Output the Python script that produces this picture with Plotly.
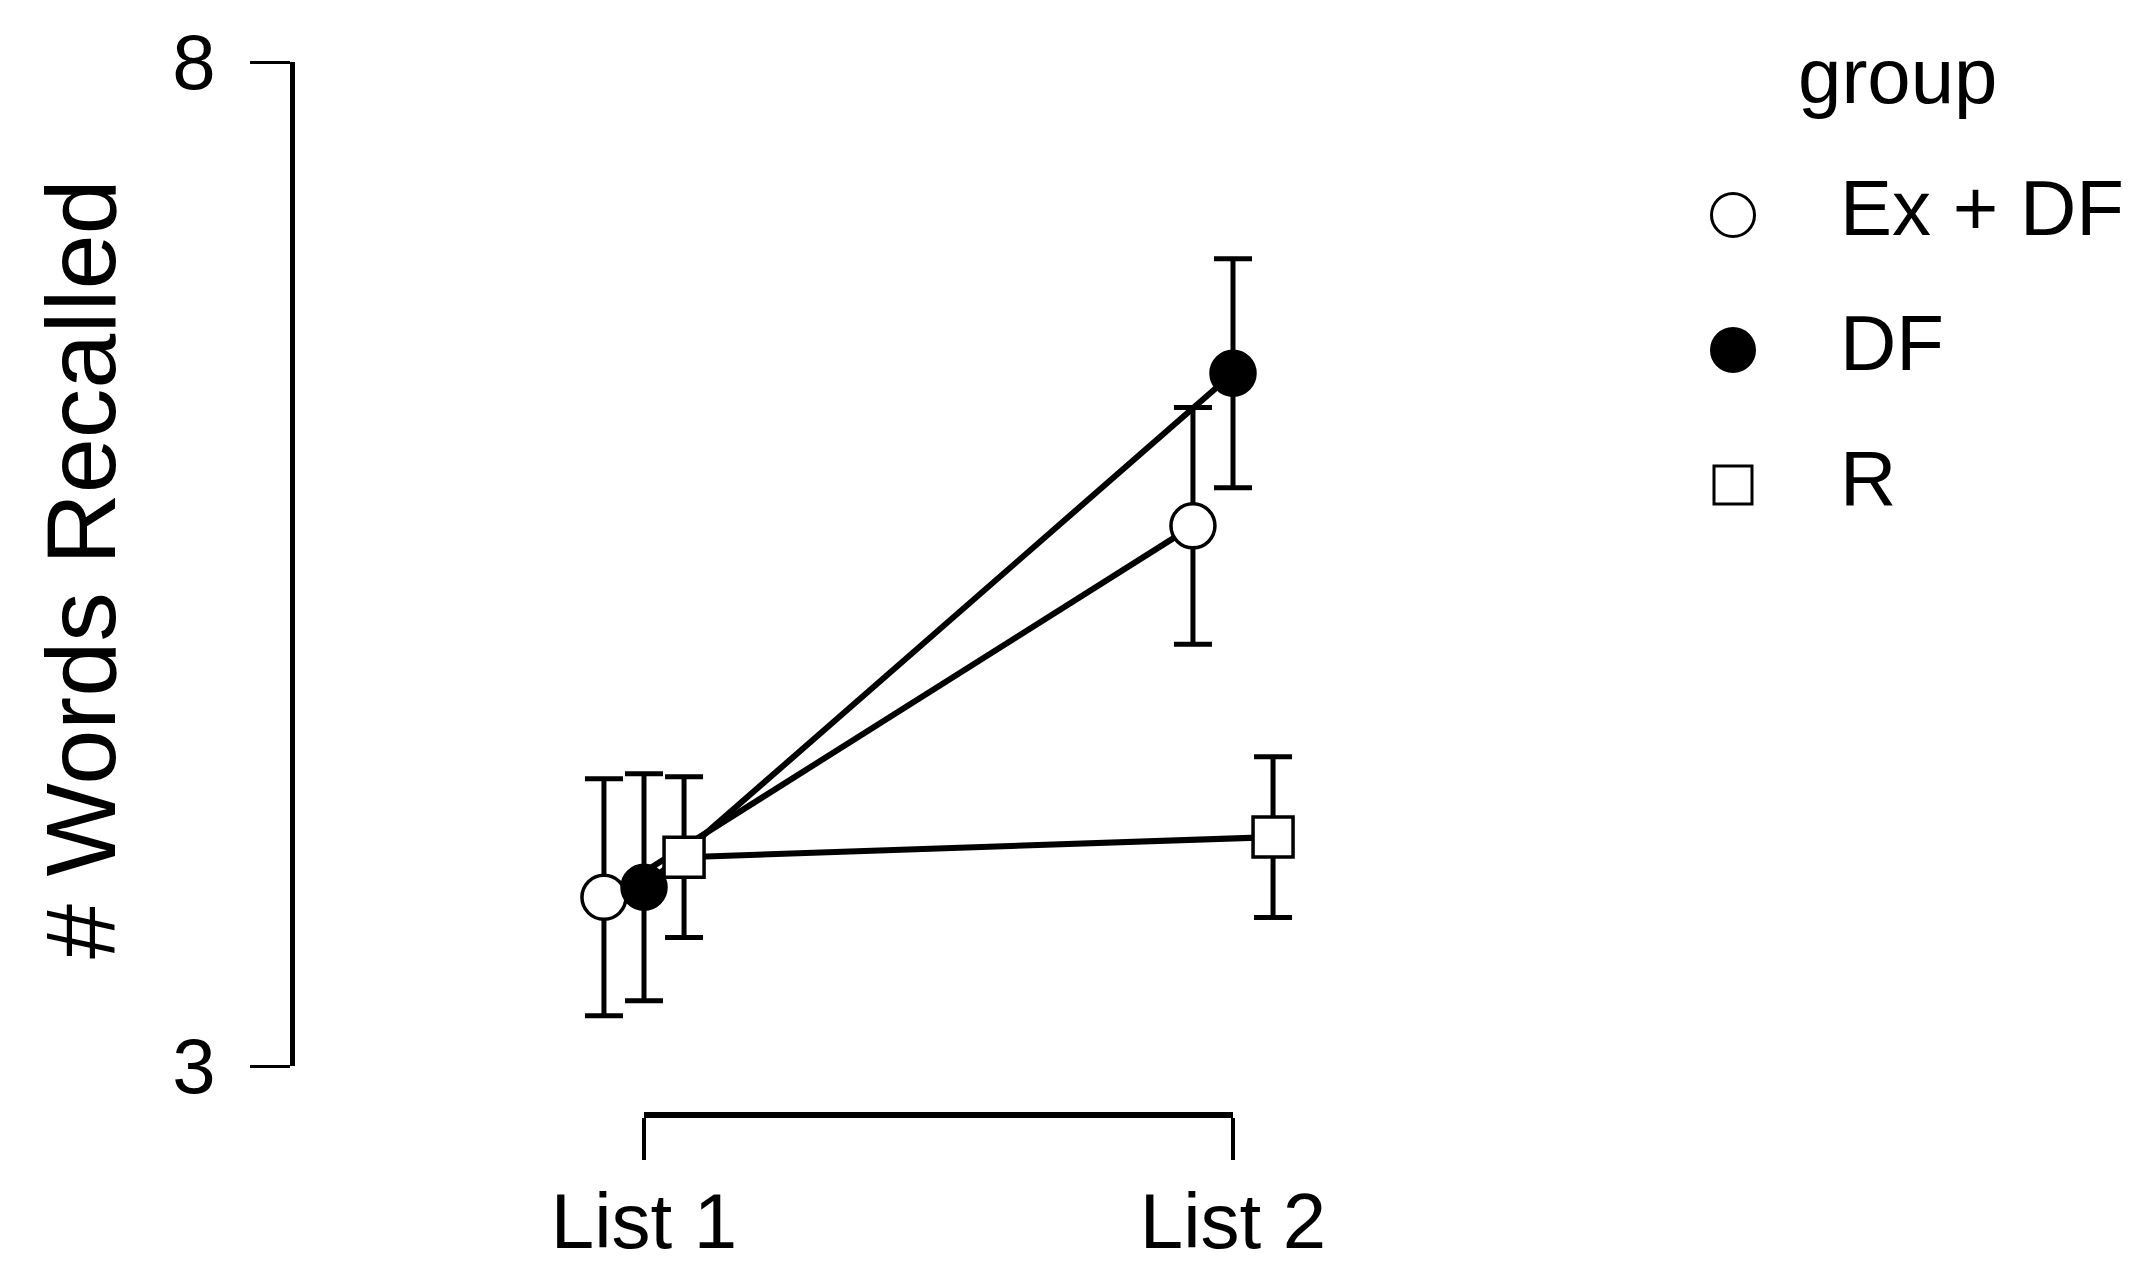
import plotly.graph_objects as go

# ---- data ----
conditions = ["List 1", "List 2"]
groups = ["Ex + DF", "DF", "R"]
mean_exdf = [3.84, 5.69]
se_exdf = [0.59, 0.59]
mean_df = [3.89, 6.45]
se_df = [0.565, 0.57]
mean_r = [4.04, 4.14]
se_r = [0.40, 0.40]
y_ticks = [3, 8]

means = [mean_exdf, mean_df, mean_r]
ses = [se_exdf, se_df, se_r]

# ---- styles ----
OFF = 8  # default page body margin
W, H = 2150 - OFF, 1280 - OFF
FONT = "Liberation Sans, Arial, sans-serif"
symbols = ["circle", "circle", "square"]
fills = ["white", "black", "white"]
sizes = [44, 44, 40]
leg_sizes = [43, 43, 38]
dodge = 0.068


def px(xp):
    return (xp - OFF) / W


def py(yp):
    return 1 - (yp - OFF) / H


fig = go.Figure()

xpos = [i + 1 for i in range(len(conditions))]
for gi, g in enumerate(groups):
    off = (gi - 1) * dodge
    fig.add_trace(go.Scatter(
        x=[p + off for p in xpos], y=means[gi],
        mode="lines+markers", name=g, showlegend=False,
        line=dict(color="black", width=6),
        marker=dict(symbol=symbols[gi], size=sizes[gi], color=fills[gi],
                    line=dict(color="black", width=3.5)),
        error_y=dict(type="data", array=ses[gi], color="black",
                     thickness=5, width=19),
        xaxis="x", yaxis="y", cliponaxis=False,
    ))

# invisible trace to carry the bracket x axis
fig.add_trace(go.Scatter(x=xpos, y=[y_ticks[0]] * len(xpos), mode="markers",
                         marker=dict(opacity=0), showlegend=False,
                         hoverinfo="skip", xaxis="x2", yaxis="y"))

# custom legend
for gi, g in enumerate(groups):
    fig.add_trace(go.Scatter(
        x=[0], y=[gi], mode="markers", showlegend=False,
        marker=dict(symbol=symbols[gi], size=leg_sizes[gi], color=fills[gi],
                    line=dict(color="black", width=3)),
        xaxis="x3", yaxis="y3", hoverinfo="skip", cliponaxis=False))
fig.add_trace(go.Scatter(
    x=[1] * len(groups), y=list(range(len(groups))), mode="text", text=groups,
    textposition="middle right", showlegend=False,
    textfont=dict(size=78, color="black", family=FONT),
    xaxis="x3", yaxis="y3", hoverinfo="skip", cliponaxis=False))

fig.update_layout(
    width=W, height=H, autosize=False,
    margin=dict(l=0, r=0, t=0, b=0),
    template="none",
    paper_bgcolor="white", plot_bgcolor="rgba(0,0,0,0)",
    font=dict(family=FONT, size=78, color="black"),
    showlegend=False,
    xaxis=dict(domain=[px(408.4), px(1468.6)], range=[0.6, 2.4],
               visible=False, anchor="y", fixedrange=True, automargin=False),
    yaxis=dict(domain=[py(1066), py(62)], range=[3, 8],
               anchor="free", position=px(292),
               showline=True, linewidth=4.5, linecolor="black",
               ticks="outside", ticklen=40, tickwidth=3, tickcolor="black",
               tickvals=y_ticks, ticktext=[str(v) for v in y_ticks],
               tickfont=dict(size=78), ticklabelstandoff=19,
               showgrid=False, zeroline=False, fixedrange=True,
               automargin=False),
    xaxis2=dict(domain=[px(644), px(1233)], range=[1, 2],
                anchor="free", position=py(1115),
                showline=True, linewidth=6, linecolor="black",
                ticks="outside", ticklen=42, tickwidth=3.5, tickcolor="black",
                tickvals=xpos, ticktext=conditions,
                tickfont=dict(size=78), ticklabelstandoff=-6,
                showgrid=False, zeroline=False, fixedrange=True,
                automargin=False),
    xaxis3=dict(domain=[px(1679.5), px(2107.5)], range=[-0.5, 3.5],
                visible=False, anchor="y3", fixedrange=True, automargin=False),
    yaxis3=dict(domain=[py(552.5), py(147.5)], range=[2.5, -0.5],
                visible=False, anchor="x3", fixedrange=True, automargin=False),
    annotations=[
        dict(text="# Words Recalled", x=px(80), y=py(569), xref="paper",
             yref="paper", textangle=-90, showarrow=False,
             xanchor="center", yanchor="middle",
             font=dict(size=99, family=FONT, color="black")),
        dict(text="group", x=px(1898), y=py(76), xref="paper", yref="paper",
             showarrow=False, xanchor="center", yanchor="middle",
             font=dict(size=78, family=FONT, color="black")),
    ],
)

fig.write_html("out.html")
